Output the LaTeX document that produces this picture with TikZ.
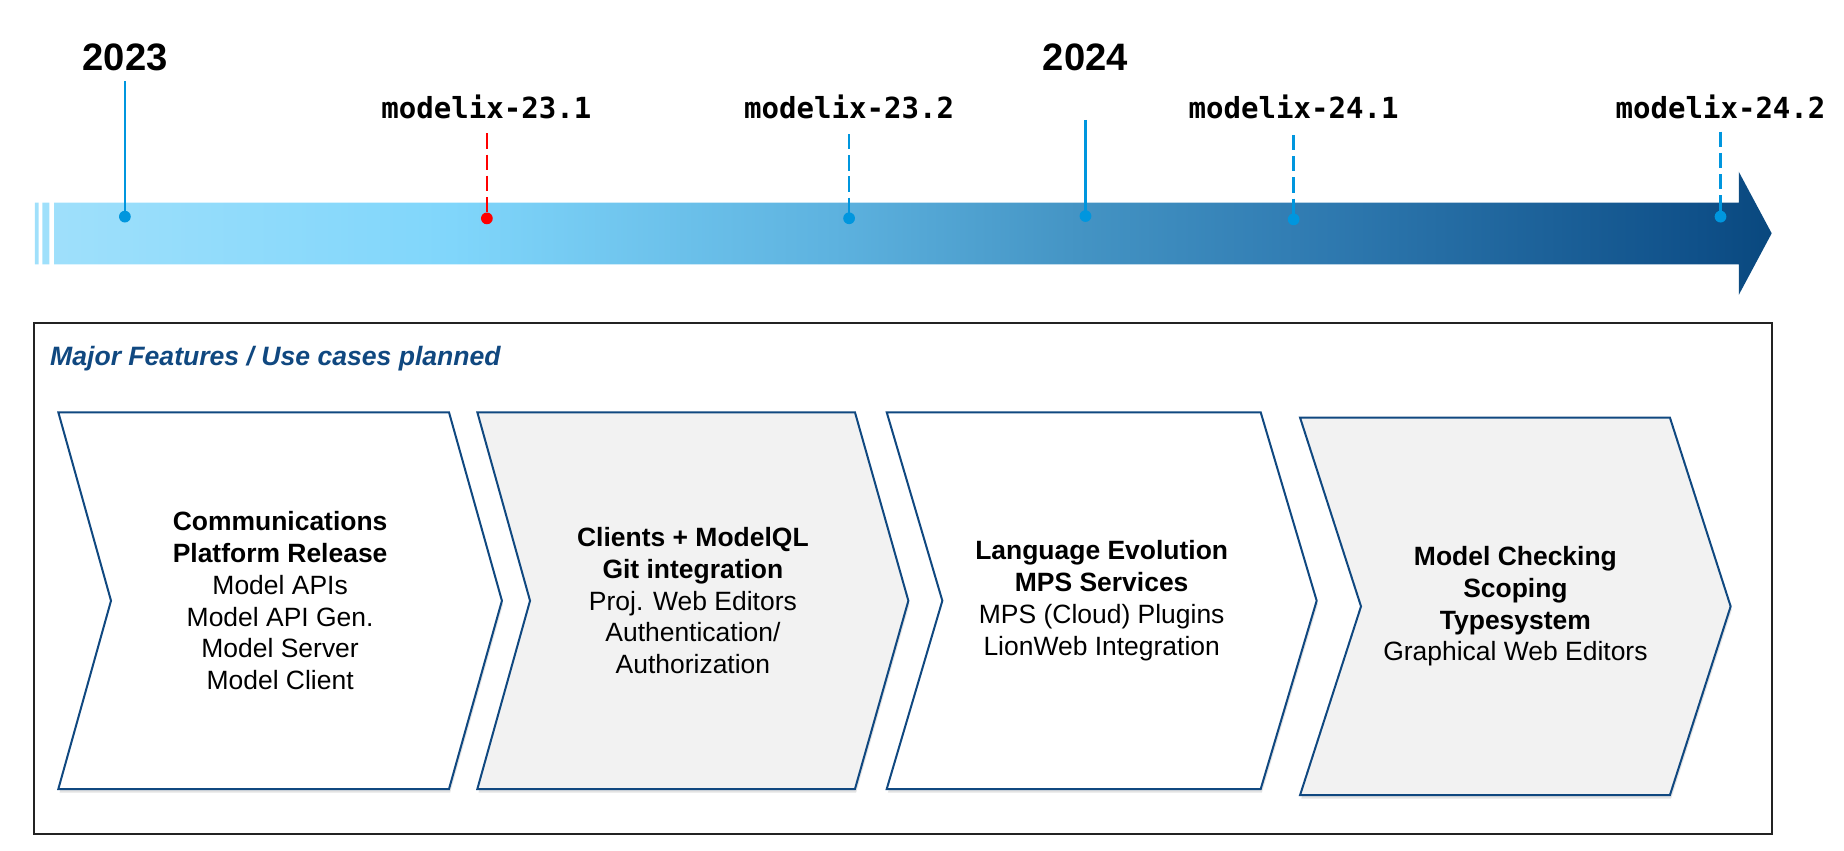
\documentclass[tikz,border=0pt]{standalone}
\usepackage{fontspec}
\setmainfont{Liberation Sans}
\newfontfamily\relfont{DejaVu Sans Mono}
\usepackage{tikz}
\usetikzlibrary{shadows}

\definecolor{navy}{RGB}{16,72,128}
\definecolor{markblue}{RGB}{0,150,222}
\definecolor{markred}{RGB}{255,0,0}
\definecolor{chevgray}{RGB}{242,242,242}
\definecolor{framegray}{RGB}{35,35,35}
\definecolor{barA}{RGB}{160,224,251}
\definecolor{barB}{RGB}{128,214,251}
\definecolor{barC}{RGB}{93,178,223}
\definecolor{barD}{RGB}{68,148,196}
\definecolor{barE}{RGB}{50,126,180}
\definecolor{barF}{RGB}{15,80,137}
\definecolor{barG}{RGB}{9,72,126}

\pgfdeclarehorizontalshading{timebar}{100bp}{color(0bp)=(barA); color(25bp)=(barA);
  color(37bp)=(barB); color(48bp)=(barC); color(55bp)=(barD); color(61bp)=(barE);
  color(73bp)=(barF); color(75bp)=(barG); color(100bp)=(barG)}

\begin{document}
\begin{tikzpicture}[x=1pt,y=-1pt,
    chevron/.style={draw=navy,line width=1.7pt,drop shadow={shadow xshift=1pt,shadow yshift=-3pt,opacity=0.22}},
    featuretext/.style={align=center,inner sep=0pt,font=\fontsize{22.5}{27}\selectfont},
    yearlabel/.style={anchor=base,inner sep=0pt,font=\fontsize{32.5}{36}\selectfont\bfseries},
    relabel/.style={anchor=base,inner sep=0pt,font=\relfont\fontsize{24.7}{28}\selectfont\bfseries},
    markdot/.style={circle,inner sep=0pt,minimum size=10pt},
    markline/.style={line width=2pt}]
  \useasboundingbox (0,0) rectangle (1568,723.6);

  % time bar with the two thin strips in front
  \shade[shading=timebar] (29.6,172.3) rectangle (32.9,224.7)
    (36,172.3) rectangle (42,224.7)
    (46,172.3) -- (1478.5,172.3) -- (1478.5,146) -- (1506.5,198.4)
    -- (1478.5,250.8) -- (1478.5,224.7) -- (46,224.7) -- cycle;

  % years
  \node[yearlabel] (y23) at (106.5,60.1) {2023};
  \node[yearlabel] (y24) at (923,60.1) {2024};
  \coordinate (t23) at (106.2,68.9);
  \coordinate (t24) at (923,102);
  \node[markdot] (d23) at (106.2,184.2) {};
  \node[markdot] (d24) at (923,183.7) {};
  \draw[markline,markblue] (t23) -- (d23.center);
  \draw[markline,markblue] (t24) -- (d24.center);
  \fill[markblue] (d23) circle (5pt);
  \fill[markblue] (d24) circle (5pt);

  % releases
  \node[relabel] (r231) at (413.6,100.6) {modelix-23.1};
  \node[relabel] (r232) at (722,100.6) {modelix-23.2};
  \node[relabel] (r241) at (1100,100.6) {modelix-24.1};
  \node[relabel] (r242) at (1463,100.6) {modelix-24.2};
  \coordinate (t231) at (414,113.4);
  \coordinate (t232) at (722,114);
  \coordinate (t241) at (1100,114.8);
  \coordinate (t242) at (1463,112);
  \node[markdot] (d231) at (414,185.7) {};
  \node[markdot] (d232) at (722,185.6) {};
  \node[markdot] (d241) at (1100,186.5) {};
  \node[markdot] (d242) at (1463,184.2) {};
  \draw[markline,markred,dash pattern=on 13pt off 5pt] (t231) -- (d231.center);
  \draw[markline,markblue,dash pattern=on 13pt off 5pt] (t232) -- (d232.center);
  \draw[markline,markblue,dash pattern=on 13pt off 5pt] (t241) -- (d241.center);
  \draw[markline,markblue,dash pattern=on 13pt off 5pt] (t242) -- (d242.center);
  \fill[markred] (d231) circle (5pt);
  \fill[markblue] (d232) circle (5pt);
  \fill[markblue] (d241) circle (5pt);
  \fill[markblue] (d242) circle (5pt);

  % features frame
  \draw[framegray,line width=1.7pt] (28.9,274.4) rectangle (1506.7,709.3);
  \node[anchor=base west,inner sep=0pt,text=navy,font=\fontsize{22.6}{27}\selectfont\bfseries\itshape]
    (title) at (42.5,310.4) {Major Features / Use cases planned};

  \draw[chevron,fill=white] (49.6,350.6) -- (381.8,350.6) -- (426.8,510.8) -- (381.8,670.9)
    -- (49.6,670.9) -- (94.4,510.8) -- cycle;
  \draw[chevron,fill=chevgray] (405.9,350.6) -- (727,350.6) -- (772.4,510.8) -- (727,670.9)
    -- (405.9,670.9) -- (450.7,510.8) -- cycle;
  \draw[chevron,fill=white] (754,350.6) -- (1072,350.6) -- (1119.6,510.8) -- (1072,670.9)
    -- (754,670.9) -- (801.3,510.8) -- cycle;
  \draw[chevron,fill=chevgray] (1105.5,355.2) -- (1420,355.2) -- (1471.6,515.6) -- (1420,676)
    -- (1105.5,676) -- (1157.3,515.6) -- cycle;

  \node[featuretext] (f1) at (238.2,510.8) {\textbf{Communications}\\\textbf{Platform Release}\\Model APIs\\Model API Gen.\\Model Server\\Model Client};
  \node[featuretext] (f2) at (589.2,510.8) {\textbf{Clients + ModelQL}\\\textbf{Git integration}\\Proj. Web Editors\\Authentication/\\Authorization};
  \node[featuretext] (f3) at (936.8,510.8) {\textbf{Language Evolution}\\\textbf{MPS Services}\\MPS (Cloud) Plugins\\LionWeb Integration};
  \node[featuretext] (f4) at (1288.6,515.6) {\textbf{Model Checking}\\\textbf{Scoping}\\\textbf{Typesystem}\\Graphical Web Editors};
\end{tikzpicture}
\end{document}
